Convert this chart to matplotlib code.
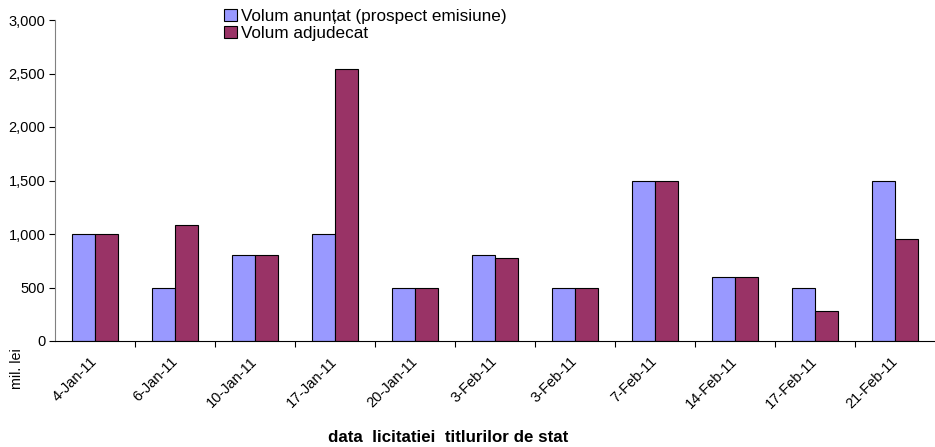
import matplotlib
matplotlib.use("Agg")
import matplotlib.pyplot as plt
import numpy as np
from matplotlib.ticker import FuncFormatter

plt.rcParams['font.family'] = ['Liberation Sans', 'DejaVu Sans']

categories = ["4-Jan-11", "6-Jan-11", "10-Jan-11", "17-Jan-11", "20-Jan-11", "3-Feb-11",
              "3-Feb-11", "7-Feb-11", "14-Feb-11", "17-Feb-11", "21-Feb-11"]
anuntat = [1000, 500, 800, 1000, 500, 800, 500, 1500, 600, 500, 1500]
adjudecat = [1000, 1080, 800, 2540, 500, 775, 500, 1500, 600, 280, 955]
yticks = [0, 500, 1000, 1500, 2000, 2500, 3000]

fig = plt.figure(figsize=(9.35, 4.47), dpi=100)
ax = fig.add_axes([55/935, 1-341/447, 880/935, 321/447])

x = np.arange(len(categories))
w = 0.29
ax.bar(x - w/2, anuntat, w, color="#9999FF", edgecolor="black", linewidth=0.8,
       label="Volum anunțat (prospect emisiune)")
ax.bar(x + w/2, adjudecat, w, color="#993366", edgecolor="black", linewidth=0.8,
       label="Volum adjudecat")

ax.set_xlim(-0.5, len(categories) - 0.5)
ax.set_ylim(0, 3000)
ax.set_yticks(yticks)
ax.yaxis.set_major_formatter(FuncFormatter(lambda v, p: f"{int(v):,}"))
ax.tick_params(axis='y', labelsize=10.5, length=4, width=0.8, direction='out', pad=3)

ax.set_xticks(x)
ax.set_xticklabels(categories, rotation=45, ha='right', va='center', rotation_mode='anchor',
                   fontsize=10.5)
ax.set_xticks(np.arange(0.5, len(categories) - 0.5, 1), minor=True)
ax.tick_params(axis='x', which='major', length=0, pad=13)
ax.tick_params(axis='x', which='minor', length=4, width=0.8, direction='out')

for s in ['top', 'right']:
    ax.spines[s].set_visible(False)
ax.spines['left'].set_color('#808080')
ax.spines['bottom'].set_color('black')

leg = fig.legend(loc='upper left', bbox_to_anchor=(212/935, 1 + 3/447), frameon=False,
                 fontsize=12.3, handlelength=0.75, handleheight=0.75, handletextpad=0.25,
                 labelspacing=0.1, borderpad=0.2)

fig.text(17/935, 1 - 369/447, "mil. lei", rotation=90, ha='center', va='center', fontsize=10.3)
fig.text(448/935, 1 - 437/447, "data  licitatiei  titlurilor de stat", ha='center', va='center',
         fontsize=12.2, fontweight='bold')

fig.savefig("out.png", dpi=100)
